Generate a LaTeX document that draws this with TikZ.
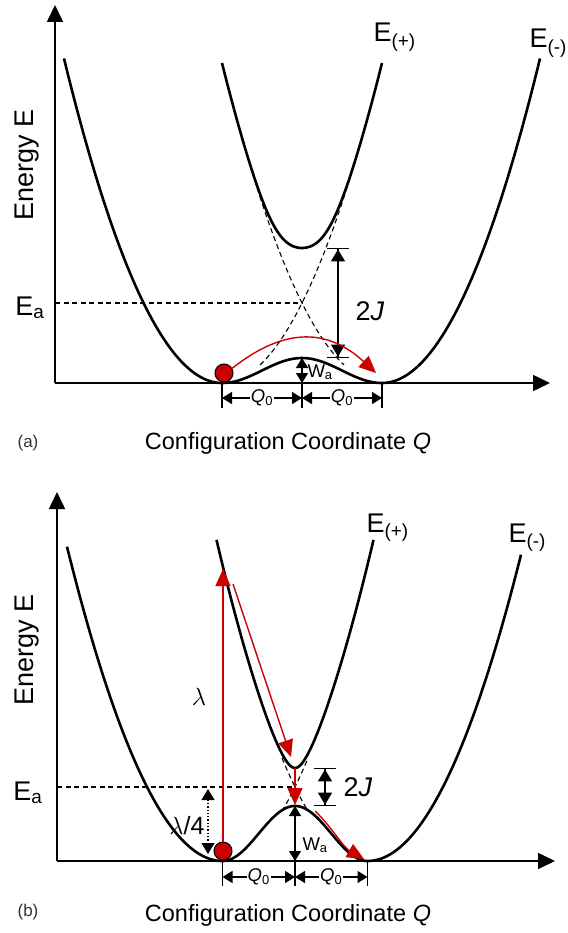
\documentclass[tikz,border=0pt]{standalone}
\usepackage{fontspec}
\setmainfont{Liberation Sans}
\usetikzlibrary{arrows.meta}
\definecolor{darkred}{RGB}{204,0,0}
\tikzset{
  curve/.style={line width=2.6pt},
  diabat/.style={line width=1.1pt,dash pattern=on 5pt off 3.5pt},
  axisline/.style={line width=1.6pt,-{Triangle[length=17pt,width=16pt]}},
  dimarrow/.style={line width=1.4pt,{Triangle[length=10pt,width=12pt]}-{Triangle[length=10pt,width=12pt]}},
  bardim/.style={line width=1.4pt,{Bar[width=22pt]Triangle[length=12pt,width=14pt]}-{Triangle[length=12pt,width=14pt]Bar[width=22pt]}},
  dotdim/.style={line width=1.3pt,dotted,{Triangle[length=11pt,width=13pt]}-{Triangle[length=11pt,width=13pt]}},
  tick/.style={line width=1.4pt},
  redarrow/.style={darkred,line width=1.4pt,-{Triangle[length=17pt,width=15pt]}},
  ball/.style={circle,draw=black,line width=1pt,fill=darkred,minimum size=18pt,inner sep=0pt},
  lbl/.style={font=\fontsize{27}{31}\selectfont},
  axlbl/.style={font=\fontsize{23.5}{28}\selectfont},
  small/.style={font=\fontsize{18.5}{22}\selectfont},
  qlabel/.style={small,fill=white,inner sep=1pt},
  tag/.style={font=\fontsize{17}{20}\selectfont,text=black!80},
}
\begin{document}
\begin{tikzpicture}[x=1pt,y=-1pt]
\useasboundingbox (0,0) rectangle (567,933);
% ---------- (a) strong coupling
\begin{scope}[shift={(302,383)},yscale=-1]
  \def\qa{80} \def\ka{0.0125} \def\ko{0.013} \def\ja{55} \def\wa{45}
  \draw[axisline] (-247,0) -- (248,0);
  \draw[axisline] (-247,0) -- (-247,378);
  \draw[diabat] (-247,80) -- (0,80);
  \draw[diabat,domain=-42:50,samples=40] plot (\x,{\ka*(\x+\qa)*(\x+\qa)});
  \draw[diabat,domain=-50:42,samples=40] plot (\x,{\ka*(\x-\qa)*(\x-\qa)});
  \draw[curve,domain=-238:238,samples=241] plot (\x,{abs(\x)<\qa ? (\ka*\qa*\qa-\ja)*(1+cos(\x/\qa*180))/2 : \ko*(abs(\x)-\qa)*(abs(\x)-\qa)});
  \draw[curve,domain=-80:80,samples=121] plot (\x,{\ka*\x*\x+\ka*\qa*\qa+10*sqrt((\ka*\qa*\x/5)^2+(\ja*exp(-(\x/\wa)^2)/10)^2)});
  \node[lbl,anchor=base west] (ep-a) at (68,341) {E\textsubscript{(+)}};
  \node[lbl,anchor=base west] (em-a) at (224,335) {E\textsubscript{(-)}};
  \node[lbl,rotate=90] (energy-a) at (-275,218) {Energy E};
  \node[lbl,anchor=base east] (ea-a) at (-254,68) {E\textsubscript{a}};
  % splitting and barrier
  \coordinate (jt-a) at (36,135); \coordinate (jb-a) at (36,25);
  \draw[bardim] (jt-a) -- (jb-a);
  \node[lbl,anchor=west] (j-a) at (50,72) {2\textit{J}};
  \coordinate (wt-a) at (0,25); \coordinate (wb-a) at (0,0);
  \draw[dimarrow] (wt-a) -- (wb-a);
  \node[small,anchor=west] (w-a) at (2,11) {W\textsubscript{a}};
  \node[ball] (ball-a) at (-78,10) {};
  \coordinate (hop-a) at (74,10);
  \draw[redarrow] (ball-a.30) .. controls (-25,50) and (20,60) .. (hop-a);
  % Q0 marks
  \foreach \t in {-\qa,0,\qa} \draw[tick] (\t,0) -- (\t,-25);
  \coordinate (ql-a) at (-\qa,-15); \coordinate (qm-a) at (0,-15); \coordinate (qr-a) at (\qa,-15);
  \draw[dimarrow] (ql-a) -- node[qlabel] (q1-a) {\textit{Q}\textsubscript{0}} (qm-a);
  \draw[dimarrow] (qm-a) -- node[qlabel] (q2-a) {\textit{Q}\textsubscript{0}} (qr-a);
\end{scope}
\node[tag] (tag-a) at (28,443) {(a)};
\node[axlbl] (xlbl-a) at (288,443) {Configuration Coordinate \textit{Q}};
% ---------- (b) weak coupling
\begin{scope}[shift={(295,861)},yscale=-1]
  \def\qb{72.5} \def\kb{0.01408} \def\ko{0.013} \def\jb{19} \def\wb{30}
  \draw[axisline] (-238,0) -- (260,0);
  \draw[axisline] (-238,0) -- (-238,369);
  \draw[diabat] (-238,74) -- (0,74);
  \draw[diabat,domain=-13:13,samples=20] plot (\x,{\kb*(\x+\qb)*(\x+\qb)});
  \draw[diabat,domain=-13:13,samples=20] plot (\x,{\kb*(\x-\qb)*(\x-\qb)});
  \draw[curve,domain=-228:226,samples=241] plot (\x,{abs(\x)<\qb ? (\kb*\qb*\qb-\jb)*(1+cos(\x/\qb*180))/2 : \ko*(abs(\x)-\qb)*(abs(\x)-\qb)});
  \draw[curve,domain=-78.5:78.5,samples=121] plot (\x,{\kb*\x*\x+\kb*\qb*\qb+10*sqrt((\kb*\qb*\x/5)^2+(\jb*exp(-(\x/\wb)^2)/10)^2)});
  \node[lbl,anchor=base west] (ep-b) at (68,329) {E\textsubscript{(+)}};
  \node[lbl,anchor=base west] (em-b) at (210,319) {E\textsubscript{(-)}};
  \node[lbl,rotate=90] (energy-b) at (-268,211) {Energy E};
  \node[lbl,anchor=base east] (ea-b) at (-249,61) {E\textsubscript{a}};
  % splitting and barrier
  \coordinate (jt-b) at (30,93); \coordinate (jb-b) at (30,55);
  \draw[bardim] (jt-b) -- (jb-b);
  \node[lbl,anchor=west] (j-b) at (45,74) {2\textit{J}};
  \coordinate (wt-b) at (0,55); \coordinate (wb-b) at (0,0);
  \draw[dimarrow] (wt-b) -- (wb-b);
  \node[small,anchor=west] (w-b) at (4,16) {W\textsubscript{a}};
  % optical path
  \node[ball] (ball-b) at (-72,10) {};
  \coordinate (lam-b) at (-72,292);
  \draw[redarrow] (ball-b.north) -- (lam-b);
  \node[font=\fontsize{26}{30}\selectfont] (l-b) at (-96,164) {$\lambda$};
  \coordinate (rs-b) at (-62,277); \coordinate (re-b) at (-4,104);
  \draw[redarrow] (rs-b) -- (re-b);
  \coordinate (us-b) at (0,93); \coordinate (ue-b) at (0,56);
  \draw[redarrow] (us-b) -- (ue-b);
  \coordinate (ds-b) at (20,50); \coordinate (de-b) at (69,2);
  \draw[redarrow] (ds-b) .. controls (36,35) and (48,14) .. (de-b);
  \coordinate (qt-b) at (-87,72); \coordinate (qb-b) at (-87,7);
  \draw[dotdim] (qt-b) -- (qb-b);
  \node[font=\fontsize{25}{29}\selectfont,anchor=east] (l4-b) at (-87,35) {$\lambda$/4};
  % Q0 marks
  \foreach \t in {-\qb,0,\qb} \draw[tick] (\t,0) -- (\t,-25);
  \coordinate (ql-b) at (-\qb,-16); \coordinate (qm-b) at (0,-16); \coordinate (qr-b) at (\qb,-16);
  \draw[dimarrow] (ql-b) -- node[qlabel] (q1-b) {\textit{Q}\textsubscript{0}} (qm-b);
  \draw[dimarrow] (qm-b) -- node[qlabel] (q2-b) {\textit{Q}\textsubscript{0}} (qr-b);
\end{scope}
\node[tag] (tag-b) at (28,912) {(b)};
\node[axlbl] (xlbl-b) at (288,915) {Configuration Coordinate \textit{Q}};
\end{tikzpicture}
\end{document}
